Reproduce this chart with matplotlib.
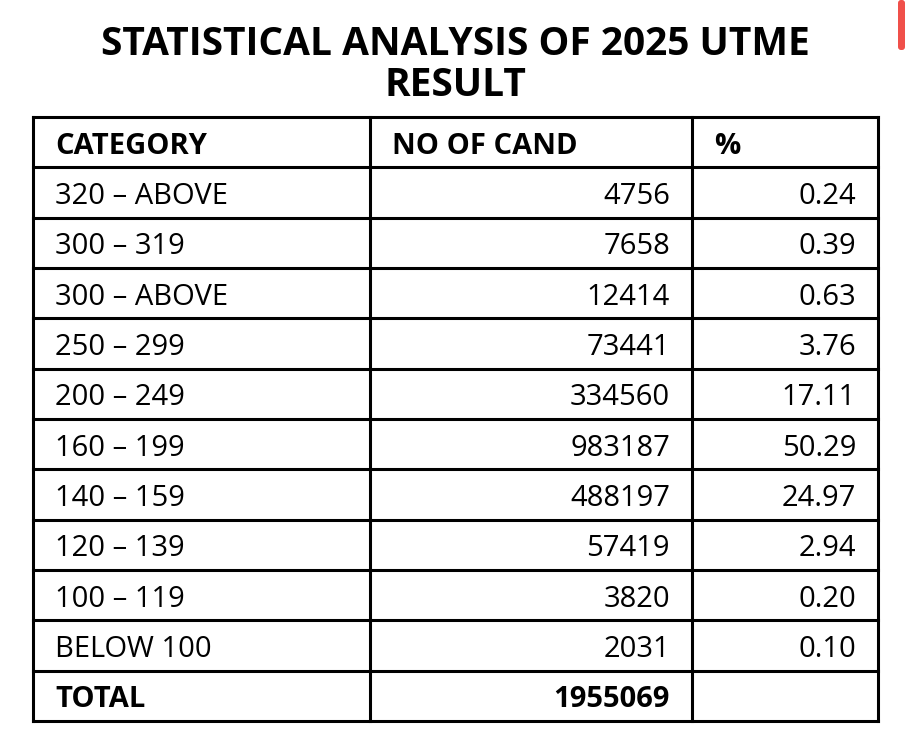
import matplotlib
matplotlib.use("Agg")
import matplotlib.pyplot as plt
from matplotlib.patches import FancyBboxPatch

title = "STATISTICAL ANALYSIS OF 2025 UTME\nRESULT"
headers = ["CATEGORY", "NO OF CAND", "%"]
categories = ["320 – ABOVE", "300 – 319", "300 – ABOVE", "250 – 299", "200 – 249",
              "160 – 199", "140 – 159", "120 – 139", "100 – 119", "BELOW 100"]
candidates = [4756, 7658, 12414, 73441, 334560, 983187, 488197, 57419, 3820, 2031]
percents = ["0.24", "0.39", "0.63", "3.76", "17.11", "50.29", "24.97", "2.94", "0.20", "0.10"]
total_label = "TOTAL"
total_value = 1955069

W, H = 909, 737
fig = plt.figure(figsize=(W/100, H/100), dpi=100)
ax = fig.add_axes([0, 0, 1, 1])
ax.set_xlim(0, W); ax.set_ylim(H, 0); ax.axis("off")

font = "Open Sans"
ax.text(455, 65, title, ha="center", va="center", fontsize=28, fontweight="bold",
        family=font, linespacing=1.05)

ax.add_patch(FancyBboxPatch((898, 0), 7, 50, boxstyle="round,pad=0,rounding_size=3",
                            color="#f0504a", lw=0))

xl, xr = 33, 878
cols = [xl, 370, 692, xr]
top, bottom = 117, 721
nrows = len(categories) + 2
rh = (bottom - top) / nrows
lw = 2.2
for i in range(nrows + 1):
    ax.plot([xl, xr], [top + i*rh]*2, color="black", lw=lw, solid_capstyle="projecting")
for x in cols:
    ax.plot([x, x], [top, bottom], color="black", lw=lw, solid_capstyle="projecting")

fs = 21
def row_y(i):
    return top + (i + 0.5) * rh + 4

for j, h in enumerate(headers):
    ax.text(cols[j] + 22, row_y(0), h, ha="left", va="center", fontsize=fs,
            fontweight="bold", family=font)
for i, (c, n, p) in enumerate(zip(categories, candidates, percents), start=1):
    y = row_y(i)
    ax.text(cols[0] + 22, y, c, ha="left", va="center", fontsize=fs, family=font)
    ax.text(cols[2] - 22, y, str(n), ha="right", va="center", fontsize=fs, family=font)
    ax.text(cols[3] - 22, y, p, ha="right", va="center", fontsize=fs, family=font)
y = row_y(nrows - 1)
ax.text(cols[0] + 22, y, total_label, ha="left", va="center", fontsize=fs,
        fontweight="bold", family=font)
ax.text(cols[2] - 22, y, str(total_value), ha="right", va="center", fontsize=fs,
        fontweight="bold", family=font)

fig.savefig("out.png", dpi=100, facecolor="white")
